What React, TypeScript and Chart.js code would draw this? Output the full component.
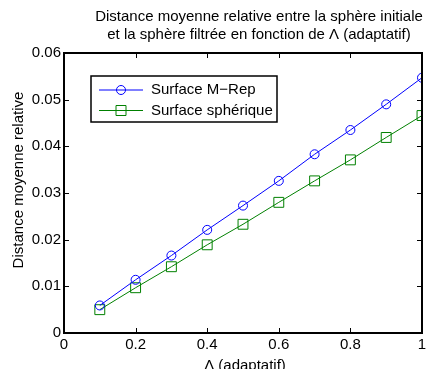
import React, { useEffect, useRef } from "react";
import { Chart, registerables } from "chart.js";

Chart.register(...registerables);

const lambdas = [0.1, 0.2, 0.3, 0.4, 0.5, 0.6, 0.7, 0.8, 0.9, 1.0];
const mrepValues = [0.0059, 0.0114, 0.0166, 0.0221, 0.0273, 0.0326, 0.0383, 0.0435, 0.049, 0.0547];
const sphereValues = [0.005, 0.0097, 0.0142, 0.0189, 0.0233, 0.028, 0.0326, 0.0371, 0.0419, 0.0466];
const xTicks = [0, 0.2, 0.4, 0.6, 0.8, 1];
const yTicks = [0, 0.01, 0.02, 0.03, 0.04, 0.05, 0.06];
const seriesNames = ["Surface M\u2212Rep", "Surface sph\u00e9rique"];
const titleLines = [
  "Distance moyenne relative entre la sph\u00e8re initiale",
  "et la sph\u00e8re filtr\u00e9e en fonction de \u039b (adaptatif)",
];
const xTitle = "\u039b (adaptatif)";
const yTitle = "Distance moyenne relative";

const FONT = "15px 'Liberation Sans', Arial, sans-serif";

const decorPlugin = {
  id: "decor",
  afterDraw(chart: any) {
    const { ctx, chartArea } = chart;
    const { left, right, top, bottom } = chartArea;
    const xs = chart.scales.x;
    const ys = chart.scales.y;
    ctx.save();
    // box
    ctx.strokeStyle = "#000";
    ctx.lineWidth = 2;
    ctx.strokeRect(left, top, right - left, bottom - top);
    // ticks
    ctx.lineWidth = 1;
    ctx.beginPath();
    const tl = 5;
    xTicks.forEach((v) => {
      const px = Math.round(xs.getPixelForValue(v)) + 0.5;
      ctx.moveTo(px, bottom);
      ctx.lineTo(px, bottom - tl);
      ctx.moveTo(px, top);
      ctx.lineTo(px, top + tl);
    });
    yTicks.forEach((v) => {
      const py = Math.round(ys.getPixelForValue(v)) + 0.5;
      ctx.moveTo(left, py);
      ctx.lineTo(left + tl, py);
      ctx.moveTo(right, py);
      ctx.lineTo(right - tl, py);
    });
    ctx.stroke();

    // title
    ctx.fillStyle = "#000";
    ctx.font = FONT;
    ctx.textAlign = "center";
    ctx.textBaseline = "middle";
    ctx.fillText(titleLines[0], 259, 17);
    ctx.fillText(titleLines[1], 259, 35);

    // x title
    ctx.textBaseline = "alphabetic";
    ctx.fillText(xTitle, 245, 370);

    // y title
    ctx.save();
    ctx.translate(23, 180);
    ctx.rotate(-Math.PI / 2);
    ctx.textAlign = "center";
    ctx.textBaseline = "alphabetic";
    ctx.fillText(yTitle, 0, 0);
    ctx.restore();

    // legend
    const lx = 91, ly = 76, lw = 186, lh = 46;
    ctx.fillStyle = "#fff";
    ctx.fillRect(lx, ly, lw, lh);
    ctx.strokeStyle = "#000";
    ctx.lineWidth = 1.5;
    ctx.strokeRect(lx, ly, lw, lh);
    const rows = [
      { y: 90, color: "#0000ff", marker: "circle", label: seriesNames[0] },
      { y: 110.5, color: "#008000", marker: "square", label: seriesNames[1] },
    ];
    rows.forEach((r) => {
      ctx.strokeStyle = r.color;
      ctx.lineWidth = 1;
      ctx.beginPath();
      ctx.moveTo(99, r.y);
      ctx.lineTo(143, r.y);
      ctx.stroke();
      ctx.beginPath();
      if (r.marker === "circle") {
        ctx.arc(121, r.y, 4.5, 0, Math.PI * 2);
      } else {
        ctx.rect(116, r.y - 5, 10, 10);
      }
      ctx.stroke();
      ctx.fillStyle = "#000";
      ctx.font = FONT;
      ctx.textAlign = "left";
      ctx.textBaseline = "middle";
      ctx.fillText(r.label, 151, r.y);
    });
    ctx.restore();
  },
};

export default function App() {
  const ref = useRef<HTMLCanvasElement | null>(null);
  useEffect(() => {
    document.body.style.margin = "0";
    const canvas = ref.current!;
    const chart = new Chart(canvas, {
      type: "line",
      data: {
        datasets: [
          {
            label: seriesNames[0],
            data: lambdas.map((x, i) => ({ x, y: mrepValues[i] })),
            borderColor: "#0000ff",
            backgroundColor: "rgba(0,0,0,0)",
            borderWidth: 1,
            pointStyle: "circle",
            pointRadius: 4.5,
            pointBorderWidth: 1,
            pointBorderColor: "#0000ff",
            pointBackgroundColor: "rgba(0,0,0,0)",
          },
          {
            label: seriesNames[1],
            data: lambdas.map((x, i) => ({ x, y: sphereValues[i] })),
            borderColor: "#008000",
            backgroundColor: "rgba(0,0,0,0)",
            borderWidth: 1,
            pointStyle: "rect",
            pointRadius: 7,
            pointBorderWidth: 1,
            pointBorderColor: "#008000",
            pointBackgroundColor: "rgba(0,0,0,0)",
          },
        ],
      },
      options: {
        responsive: false,
        animation: false,
        layout: { autoPadding: false, padding: { left: 0, right: 4, top: 53, bottom: 0 } },
        plugins: {
          legend: { display: false },
          title: { display: false },
          tooltip: { enabled: false },
        },
        scales: {
          x: {
            type: "linear",
            min: 0,
            max: 1,
            afterBuildTicks: (s: any) => {
              s.ticks = xTicks.map((v) => ({ value: v }));
            },
            afterFit: (s: any) => {
              s.height = 36;
              s.paddingRight = 0;
              s.paddingLeft = 0;
            },
            grid: { display: false, drawTicks: false },
            border: { display: false },
            ticks: {
              padding: 3,
              color: "#000",
              font: { family: "'Liberation Sans', Arial, sans-serif", size: 15 },
              maxRotation: 0,
              autoSkip: false,
              callback: (v: any) => String(Number(v)),
            },
          },
          y: {
            type: "linear",
            min: 0,
            max: 0.06,
            afterBuildTicks: (s: any) => {
              s.ticks = yTicks.map((v) => ({ value: v }));
            },
            afterFit: (s: any) => {
              s.width = 64;
            },
            grid: { display: false, drawTicks: false },
            border: { display: false },
            ticks: {
              padding: 3,
              color: "#000",
              font: { family: "'Liberation Sans', Arial, sans-serif", size: 15 },
              autoSkip: false,
              callback: (v: any) => String(Number(Number(v).toFixed(2))),
            },
          },
        },
      },
      plugins: [decorPlugin],
    });
    return () => chart.destroy();
  }, []);
  return (
    <div style={{ position: "fixed", left: 0, top: 0, width: 426, height: 369, background: "#fff" }}>
      <canvas ref={ref} width={426} height={369} style={{ display: "block" }} />
    </div>
  );
}
